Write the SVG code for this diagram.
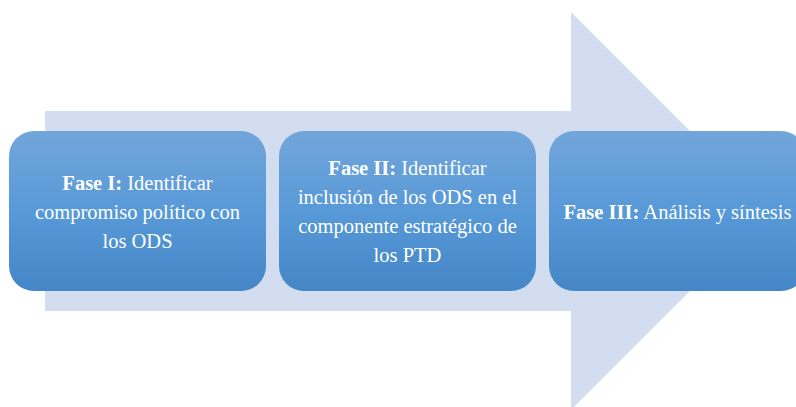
<svg xmlns="http://www.w3.org/2000/svg" width="796" height="407" viewBox="0 0 796 407">
<defs>
<linearGradient id="g" x1="0" y1="0" x2="0" y2="1">
<stop offset="0" stop-color="#72a6da"/>
<stop offset="0.5" stop-color="#5899d8"/>
<stop offset="1" stop-color="#4486c6"/>
</linearGradient>
<style>
.box{fill:url(#g);}
.t{font-family:"Liberation Serif",serif;font-size:20.5px;fill:#ffffff;text-anchor:middle;}
.b{font-weight:bold;}
</style>
</defs>
<g id="arrow">
<polygon points="45,111 571,111 571,12 770,211 571,410 571,311 45,311" fill="#d2ddef"/>
</g>
<g id="connectors"></g>
<g id="fase1">
<rect class="box" x="9" y="131" width="257" height="160" rx="25"/>
<text class="t" x="137.5" y="190"><tspan class="b">Fase I:</tspan> Identificar</text>
<text class="t" x="137.5" y="219">compromiso político con</text>
<text class="t" x="137.5" y="248">los ODS</text>
</g>
<g id="fase2">
<rect class="box" x="279" y="131" width="257" height="160" rx="25"/>
<text class="t" x="407.5" y="175"><tspan class="b">Fase II:</tspan> Identificar</text>
<text class="t" x="407.5" y="204">inclusión de los ODS en el</text>
<text class="t" x="407.5" y="233">componente estratégico de</text>
<text class="t" x="407.5" y="262">los PTD</text>
</g>
<g id="fase3">
<rect class="box" x="549" y="131" width="257" height="160" rx="25"/>
<text class="t" x="677.5" y="219"><tspan class="b">Fase III:</tspan> Análisis y síntesis</text>
</g>
</svg>
